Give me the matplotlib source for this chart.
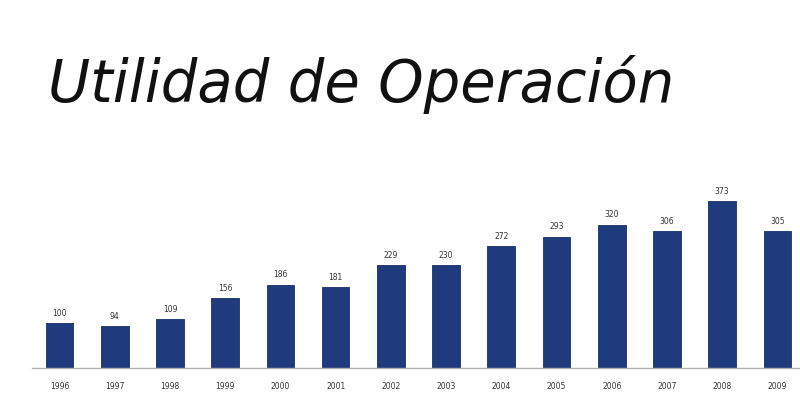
import matplotlib
matplotlib.use("Agg")
import matplotlib.pyplot as plt

# --- Datos ---
YEARS = ["1996", "1997", "1998", "1999", "2000", "2001", "2002",
         "2003", "2004", "2005", "2006", "2007", "2008", "2009"]
VALUES = [100, 94, 109, 156, 186, 181, 229, 230, 272, 293, 320, 306, 373, 305]

BAR_COLOR = "#1f3b7e"

fig = plt.figure(figsize=(8, 4.2), dpi=100)
fig.patch.set_facecolor("white")

fig.text(0.06, 0.757, "Utilidad de Operación", fontsize=41.5, style="oblique",
         family="DejaVu Sans", color="#111111", ha="left", va="baseline")

ax = fig.add_axes([0.04, 0.124, 0.96, 0.426])
x = list(range(len(YEARS)))
ax.bar(x, VALUES, width=0.5, color=BAR_COLOR, edgecolor="#17306a", linewidth=0.6)

for xi, v in zip(x, VALUES):
    ax.text(xi, v + 12, str(v), ha="center", va="bottom", fontsize=5.5,
            color="#333333")

ax.set_xlim(-0.5, 13.41)
ax.set_ylim(0, 400)
ax.set_xticks(x)
ax.set_xticklabels(YEARS, fontsize=5.5, color="#333333")
ax.tick_params(axis="x", length=0, pad=10)
ax.set_yticks([])
for side in ["top", "right", "left"]:
    ax.spines[side].set_visible(False)
ax.spines["bottom"].set_color("#b0b0b0")
ax.spines["bottom"].set_linewidth(1.0)

fig.savefig("out.png", dpi=100, facecolor="white")
